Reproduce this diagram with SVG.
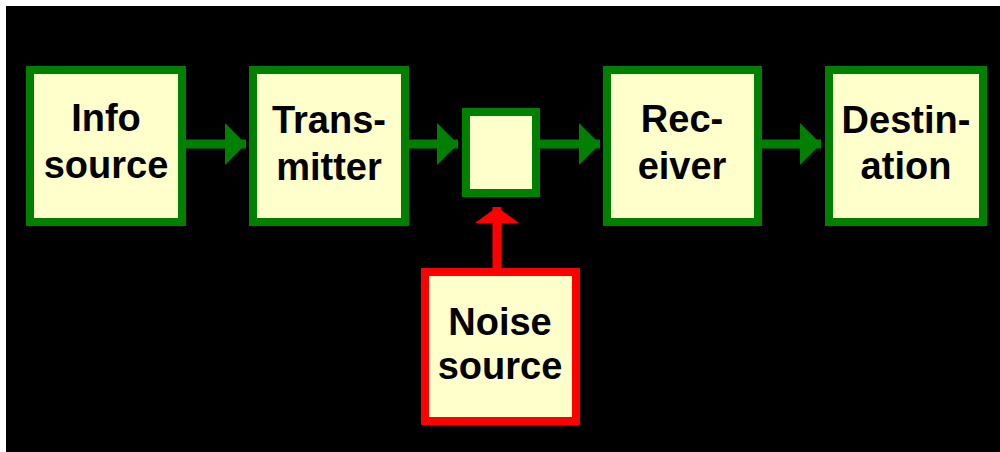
<svg xmlns="http://www.w3.org/2000/svg" width="1000" height="452" viewBox="0 0 1000 452">
<defs>
<style>
.box{fill:#FFFFCC;stroke:#008000;stroke-width:8}
.noise{fill:#FFFFCC;stroke:#FF0000;stroke-width:8}
.lbl{font-family:"Liberation Sans",Arial,sans-serif;font-weight:bold;font-size:38px;fill:#000;text-anchor:middle}
.gl{stroke:#008000;stroke-width:9;fill:none}
.rl{stroke:#FF0000;stroke-width:9;fill:none}
</style>
<marker id="ga" markerUnits="userSpaceOnUse" viewBox="0 0 21 42" refX="21" refY="21" markerWidth="21" markerHeight="42" orient="auto">
<path d="M0,0 L21,21 L0,42 Z" fill="#008000"/>
</marker>
<marker id="ra" markerUnits="userSpaceOnUse" viewBox="0 0 16 44" refX="16" refY="22" markerWidth="16" markerHeight="44" orient="auto">
<path d="M0,0 L16,22 L0,44 Z" fill="#FF0000"/>
</marker>
</defs>
<rect x="0" y="0" width="1000" height="452" fill="#FFFFFF"/>
<rect x="6" y="6" width="994" height="446" fill="#000000"/>
<g id="connectors">
<line class="gl" x1="186" y1="144" x2="246" y2="144" marker-end="url(#ga)"/>
<line class="gl" x1="409" y1="144" x2="458" y2="144" marker-end="url(#ga)"/>
<line class="gl" x1="540" y1="144" x2="600" y2="144" marker-end="url(#ga)"/>
<line class="gl" x1="762" y1="144" x2="821" y2="144" marker-end="url(#ga)"/>
<line class="rl" x1="497" y1="268" x2="497" y2="207" marker-end="url(#ra)"/>
</g>
<g id="info-source">
<rect class="box" x="30" y="70" width="152" height="152"/>
<text class="lbl" x="106" y="131">Info</text>
<text class="lbl" x="106" y="178">source</text>
</g>
<g id="transmitter">
<rect class="box" x="253" y="70" width="152" height="152"/>
<text class="lbl" x="329" y="133">Trans-</text>
<text class="lbl" x="329" y="180">mitter</text>
</g>
<g id="channel">
<rect class="box" x="466" y="112" width="70" height="81"/>
</g>
<g id="receiver">
<rect class="box" x="607" y="70" width="151" height="152"/>
<text class="lbl" x="682" y="132">Rec-</text>
<text class="lbl" x="682" y="179">eiver</text>
</g>
<g id="destination">
<rect class="box" x="829" y="70" width="154" height="152"/>
<text class="lbl" x="906" y="133">Destin-</text>
<text class="lbl" x="906" y="179">ation</text>
</g>
<g id="noise-source">
<rect class="noise" x="425" y="272" width="151" height="149"/>
<text class="lbl" x="500" y="335">Noise</text>
<text class="lbl" x="500" y="379">source</text>
</g>
</svg>
